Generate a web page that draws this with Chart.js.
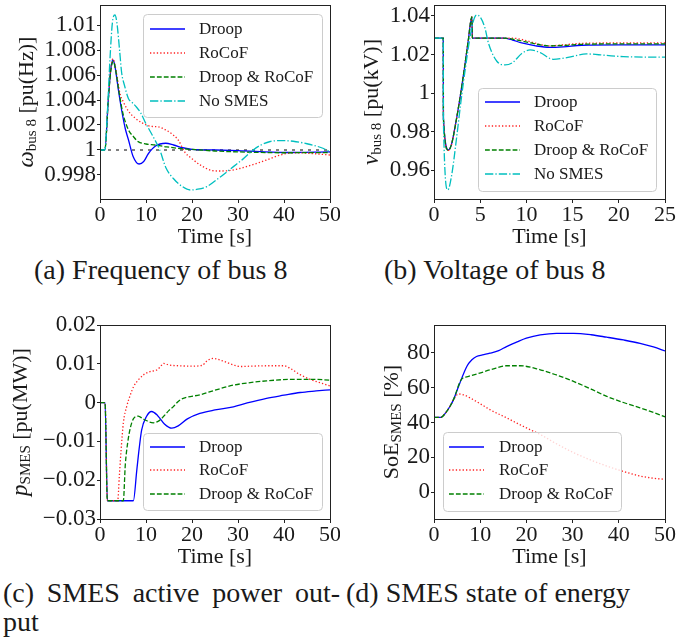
<!DOCTYPE html>
<html>
<head>
<meta charset="utf-8">
<script src="https://cdn.jsdelivr.net/npm/chart.js@4.4.0/dist/chart.umd.min.js"></script>
<style>
  body { margin: 0; background: #fff; width: 697px; height: 637px; position: relative; overflow: hidden; color: #1a1a1a; }
  canvas { position: absolute; }
  .cap { position: absolute; font-family: "Liberation Serif", "Times New Roman", "DejaVu Serif", serif; font-size: 28px; line-height: 1; white-space: nowrap; }
  .just { text-align: justify; text-align-last: justify; white-space: normal; }
</style>
</head>
<body>
<canvas id="chartA" width="340" height="250" style="left:0;top:0"></canvas>
<canvas id="chartB" width="357" height="250" style="left:340px;top:0"></canvas>
<canvas id="chartC" width="340" height="270" style="left:0;top:300px"></canvas>
<canvas id="chartD" width="357" height="270" style="left:340px;top:300px"></canvas>

<div class="cap" style="left:34px;top:256px">(a) Frequency of bus 8</div>
<div class="cap" style="left:384px;top:256px">(b) Voltage of bus 8</div>
<div class="cap just" style="left:3px;top:579px;width:337px">(c) SMES active power out-</div>
<div class="cap" style="left:3px;top:608px">put</div>
<div class="cap" style="left:346px;top:579px">(d) SMES state of energy</div>

<script>
Chart.defaults.font.family = 'Liberation Serif'
Chart.defaults.color = '#1a1a1a'

// ---- (a) frequency of bus 8, [time s, pu] ----
const freqRef = [[0, 1], [50, 1]]
const freqDroop = [[0, 1], [1.05, 1], [1.8, 1.004], [2.3, 1.0063], [2.75, 1.0072], [3.2, 1.0068], [4, 1.0048], [4.7, 1.0032],
  [5.5, 1.0017], [6.2, 1.0008], [7.2, 0.99948], [8.5, 0.99888], [9.5, 0.99908], [10.5, 0.9997], [12, 1.0003], [14.3, 1.00054],
  [16, 1.0004], [18, 1.00018], [20, 1.00005], [25, 1.0], [30, 0.99995], [40, 0.9998], [50, 0.99985]]
const freqRocof = [[0, 1], [1.05, 1], [1.8, 1.004], [2.3, 1.0064], [2.8, 1.0073], [3.3, 1.0067], [4.35, 1.0045], [5, 1.0039],
  [6.2, 1.0031], [7.5, 1.0026], [9, 1.0022], [11, 1.0019], [12.7, 1.00185], [14.3, 1.0016], [15.6, 1.0013], [17, 1.0008],
  [18.5, 0.9998], [20, 0.9993], [22, 0.99875], [24.3, 0.99836], [26, 0.99832], [28, 0.99835], [30.4, 0.99852], [33, 0.9988],
  [36.2, 0.9992], [38.5, 0.99952], [40.6, 0.99972], [43, 0.99978], [46, 0.99972], [50, 0.9996]]
const freqBoth = [[0, 1], [1.05, 1], [1.8, 1.004], [2.3, 1.0062], [2.9, 1.0071], [3.4, 1.0064], [4.2, 1.0045], [5, 1.0029],
  [6.2, 1.0016], [7.2, 1.0011], [8.3, 1.00067], [10, 1.00048], [12, 1.0004], [14.5, 1.00025], [18, 1.0001], [21.7, 1.0],
  [25, 0.99992], [30, 0.99985], [40, 0.99978], [50, 0.9998]]
const freqNoSmes = [[0, 1], [1.05, 1], [1.6, 1.003], [2.2, 1.0075], [2.7, 1.0102], [3.25, 1.0108], [3.7, 1.0101], [4.3, 1.0078],
  [4.7, 1.0062], [5.3, 1.0052], [6.2, 1.0041], [7, 1.0038], [8, 1.0034], [8.8, 1.003], [10, 1.0021], [11.5, 1.0011], [13, 1.0],
  [14.3, 0.9986], [16, 0.9977], [17.8, 0.9971], [19.6, 0.9968], [21, 0.99685], [23.2, 0.99707], [26, 0.9978], [29, 0.99867],
  [31, 0.99925], [33.3, 1.0], [35, 1.0004], [37, 1.00068], [39.5, 1.00075], [42, 1.0007], [45, 1.0005], [48, 1.0002], [50, 0.99987]]
const freqTicks = [0.998, 1, 1.002, 1.004, 1.006, 1.008, 1.01]
const freqTickLabels = ['0.998', '1', '1.002', '1.004', '1.006', '1.008', '1.01']

// ---- (b) voltage of bus 8, [time s, pu] ----
const voltDroop = [[0, 1.0285], [1.0, 1.0285], [1.02, 0.987], [1.55, 0.9705], [1.9, 0.9735], [2.3, 0.983], [2.8, 0.997],
  [3.3, 1.013], [3.7, 1.027], [4.1, 1.0395], [4.15, 1.0285], [7.5, 1.0285], [8.5, 1.0275], [9.5, 1.026], [11, 1.0245],
  [12.5, 1.0237], [14, 1.024], [16, 1.0248], [20, 1.025], [25, 1.025]]
const voltRocof = [[0, 1.0285], [1.0, 1.0285], [1.02, 0.987], [1.55, 0.9702], [1.9, 0.9733], [2.3, 0.983], [2.8, 0.997],
  [3.3, 1.013], [3.7, 1.027], [4.1, 1.0395], [4.15, 1.0285], [7.5, 1.0285], [8.5, 1.0285], [9.5, 1.0278], [10.5, 1.0265],
  [11.5, 1.0252], [12.5, 1.0245], [14, 1.025], [16, 1.0258], [20, 1.026], [25, 1.026]]
const voltBoth = [[0, 1.0285], [1.0, 1.0285], [1.02, 0.987], [1.55, 0.9703], [1.9, 0.9734], [2.3, 0.983], [2.8, 0.997],
  [3.3, 1.013], [3.7, 1.027], [4.1, 1.0395], [4.15, 1.0285], [7.5, 1.0285], [8.5, 1.028], [9.5, 1.027], [10.5, 1.026],
  [11.5, 1.025], [12.5, 1.0245], [14, 1.0247], [16, 1.0253], [20, 1.0255], [25, 1.0255]]
const voltNoSmes = [[0, 1.0285], [1.0, 1.0285], [1.02, 0.985], [1.5, 0.9497], [1.9, 0.957], [2.4, 0.975], [2.9, 0.995],
  [3.4, 1.013], [3.9, 1.029], [4.3, 1.038], [4.6, 1.0405], [5, 1.0395], [5.5, 1.034], [5.9, 1.0258], [6.8, 1.0165],
  [7.7, 1.0146], [8.5, 1.0158], [9.5, 1.0205], [10.4, 1.0224], [11.5, 1.021], [12.9, 1.0175], [14.5, 1.0185],
  [16.5, 1.0203], [18.5, 1.0196], [20.5, 1.0189], [25, 1.0186]]
const voltTicks = [0.96, 0.98, 1, 1.02, 1.04]
const voltTickLabels = ['0.96', '0.98', '1', '1.02', '1.04']

// ---- (c) SMES active power, [time s, pu] ----
const powDroop = [[0, 0], [1.1, 0], [1.6, -0.0253], [7.25, -0.0253], [8, -0.0174], [8.5, -0.012], [9.05, -0.0071],
  [10.1, -0.0036], [11.2, -0.0023], [12.5, -0.0033], [14, -0.0055], [15.6, -0.0066], [17, -0.006], [19, -0.0042],
  [21.7, -0.0028], [25, -0.0019], [29, -0.0011], [32, -0.0001], [36.2, 0.0011], [40, 0.0019], [43.5, 0.0026], [47, 0.003],
  [50, 0.0033]]
const powRocof = [[0, 0], [1.1, 0], [1.6, -0.0253], [3.85, -0.0253], [4.2, -0.019], [4.6, -0.012], [5.1, -0.005],
  [5.8, -0.001], [6.6, 0.002], [7.3, 0.0041], [8.3, 0.0058], [9.5, 0.0072], [10.9, 0.008], [12.3, 0.0084], [13.1, 0.0092],
  [13.8, 0.0101], [15, 0.0097], [17, 0.0095], [20, 0.0094], [22.3, 0.0096], [23, 0.0105], [24.6, 0.0114], [26.5, 0.0108],
  [29, 0.0097], [30.4, 0.0093], [33, 0.0094], [37, 0.0095], [39.9, 0.0095], [41.5, 0.0087], [43.5, 0.0072], [45.7, 0.006],
  [50, 0.0043]]
const powBoth = [[0, 0], [1.1, 0], [1.6, -0.0253], [5.07, -0.0253], [5.5, -0.016], [6, -0.0105], [6.6, -0.0065],
  [7.25, -0.0042], [8.3, -0.0035], [9.5, -0.0043], [11.6, -0.0052], [12.8, -0.0047], [13.8, -0.0036], [15, -0.002],
  [15.9, -0.0011], [17, 0.0003], [18.1, 0.0011], [21.7, 0.002], [25, 0.0032], [29, 0.0045], [33, 0.0052], [36.2, 0.0056],
  [42, 0.006], [46, 0.006], [50, 0.0058]]
const powTicks = [-0.03, -0.02, -0.01, 0, 0.01, 0.02]
const powTickLabels = ['\u22120.03', '\u22120.02', '\u22120.01', '0', '0.01', '0.02']

// ---- (d) SMES state of energy, [time s, %] ----
const soeDroop = [[0, 43], [1.5, 43], [2.5, 45.5], [3.5, 49.5], [4.2, 53], [5.6, 62.7], [7.1, 72.2], [8.2, 76], [9.2, 77.9],
  [10.5, 78.8], [12.1, 79.8], [14, 81.3], [15.7, 83.6], [18, 86.3], [20, 88.4], [23, 90.3], [26.5, 91.2], [30.2, 91.2],
  [34, 90.4], [37.4, 89], [41, 87.4], [44.6, 85.5], [47.5, 83.4], [50, 81.1]]
const soeRocof = [[0, 43], [1.5, 43], [2.5, 45.5], [3.5, 49.5], [4.2, 53], [5.3, 56.4], [6.5, 55.8], [8.5, 53.1],
  [10.3, 50.3], [12.1, 47.4], [15.7, 42.7], [19, 38.2], [23, 33.1], [26.5, 27.8], [30.2, 22.7], [34, 18.4], [37.4, 15],
  [41, 11.9], [44.6, 9.3], [47.5, 8], [50, 7.4]]
const soeBoth = [[0, 43], [1.5, 43], [2.5, 45.5], [3.5, 49.5], [4.2, 53], [5.9, 64.6], [7.5, 66.5], [9.9, 68.4],
  [12.5, 70.5], [15.7, 72.6], [18.6, 72.6], [23, 70.3], [26.5, 67.3], [30.2, 63.6], [34, 59.2], [37.4, 55], [41, 51.5],
  [44.6, 48.4], [47.5, 45.8], [50, 43.3]]
const soeTicks = [0, 20, 40, 60, 80]
const soeTickLabels = ['0', '20', '40', '60', '80']

const timeTicks50 = [0, 10, 20, 30, 40, 50]
const timeTicks25 = [0, 5, 10, 15, 20, 25]
const seriesNames = ['Droop', 'RoCoF', 'Droop & RoCoF', 'No SMES']

// matplotlib-ish styles: b-, r:, g--, c-.
const styles = [
  { color: '#0000ff', dash: [] },
  { color: '#ff2020', dash: [1.3, 2.1] },
  { color: '#008000', dash: [4.8, 2.1] },
  { color: '#00bfbf', dash: [8.3, 2.1, 1.3, 2.1] }
]

const xTickFont = { family: 'Liberation Serif', size: 22, lineHeight: 1 }
const yTickFont = { family: 'Liberation Serif', size: 23, lineHeight: 1 }

// box, legend and y-title with subscript
const decor = {
  id: 'decor',
  afterDraw: (chart, args, opts) => {
    const ctx = chart.ctx
    const a = chart.chartArea
    ctx.save()
    ctx.strokeStyle = '#222'
    ctx.lineWidth = 1
    ctx.strokeRect(Math.round(a.left) + 0.5, Math.round(a.top) + 0.5, Math.round(a.right - a.left), Math.round(a.bottom - a.top))

    // legend
    const lg = opts.legend
    ctx.beginPath()
    ctx.roundRect(lg.x + 0.5, lg.y + 0.5, lg.w, lg.h, 4)
    ctx.fillStyle = 'rgba(255,255,255,0.8)'
    ctx.fill()
    ctx.strokeStyle = '#cccccc'
    ctx.stroke()
    ctx.font = '17px "Liberation Serif"'
    ctx.textBaseline = 'middle'
    lg.rows.forEach((ry, i) => {
      const st = styles[i]
      ctx.beginPath()
      ctx.setLineDash(st.dash)
      ctx.strokeStyle = st.color
      ctx.lineWidth = 1.3
      ctx.moveTo(lg.lineX, ry)
      ctx.lineTo(lg.lineX + 35, ry)
      ctx.stroke()
      ctx.setLineDash([])
      ctx.fillStyle = '#1a1a1a'
      ctx.fillText(seriesNames[i], lg.textX, ry + 1)
    })

    // rotated y title
    const t = opts.yTitle
    ctx.translate(t.x, t.y)
    ctx.rotate(-Math.PI / 2)
    let total = 0
    t.parts.forEach(p => { ctx.font = p.font; total += ctx.measureText(p.text).width })
    let cx = -total / 2
    ctx.textAlign = 'left'
    t.parts.forEach(p => {
      ctx.font = p.font
      ctx.fillText(p.text, cx, p.dy)
      cx += ctx.measureText(p.text).width
    })
    ctx.restore()
  }
}

const makeChart = (id, cfg) => {
  const n = cfg.series.length
  const datasets = cfg.series.map((s, i) => ({
    data: s.map(([x, y]) => ({ x, y })),
    borderColor: styles[i].color,
    borderDash: styles[i].dash,
    borderWidth: 1.3,
    order: n - i
  }))
  if (cfg.ref) {
    datasets.push({
      data: cfg.ref.map(([x, y]) => ({ x, y })),
      borderColor: '#000',
      borderDash: [3, 5],
      borderWidth: 1,
      order: 100
    })
  }
  new Chart(document.getElementById(id), {
    type: 'line',
    data: { datasets: datasets },
    options: {
      responsive: false,
      animation: false,
      layout: { padding: { top: cfg.padTop, right: cfg.padRight, left: 0, bottom: 0 } },
      elements: { point: { radius: 0 }, line: { cubicInterpolationMode: 'monotone', fill: false } },
      plugins: {
        legend: { display: false },
        tooltip: { enabled: false },
        decor: { legend: cfg.legend, yTitle: cfg.yTitle }
      },
      scales: {
        x: {
          type: 'linear',
          min: 0,
          max: cfg.xTicks[cfg.xTicks.length - 1],
          afterBuildTicks: (s) => { s.ticks = cfg.xTicks.map(v => ({ value: v })) },
          afterFit: (s) => { s.height = 51; s.paddingLeft = 0; s.paddingRight = 0 },
          grid: { drawOnChartArea: false, tickLength: 4, color: '#222' },
          border: { display: false },
          ticks: { font: xTickFont, color: '#1a1a1a', padding: 1, maxRotation: 0, autoSkip: false,
            callback: (v) => String(v) },
          title: { display: true, text: 'Time [s]', font: { family: 'Liberation Serif', size: 22 }, color: '#1a1a1a',
            padding: { top: 0, bottom: 0 } }
        },
        y: {
          type: 'linear',
          min: cfg.yMin,
          max: cfg.yMax,
          afterBuildTicks: (s) => { s.ticks = cfg.yTicks.map(v => ({ value: v })) },
          afterFit: (s) => { s.width = cfg.yWidth; s.paddingTop = 0; s.paddingBottom = 0 },
          grid: { drawOnChartArea: false, tickLength: 3, color: '#222' },
          border: { display: false },
          ticks: { font: yTickFont, color: '#1a1a1a', padding: 1, autoSkip: false,
            callback: (v, i) => cfg.yTickLabels[i] }
        }
      }
    },
    plugins: [decor]
  })
}

const big = '22px "Liberation Serif"'
const bigIt = 'italic 23px "Liberation Serif"'
const sub = '15px "Liberation Serif"'

makeChart('chartA', {
  series: [freqDroop, freqRocof, freqBoth, freqNoSmes],
  ref: freqRef,
  xTicks: timeTicks50, yTicks: freqTicks, yTickLabels: freqTickLabels,
  yMin: 0.99608, yMax: 1.0116, yWidth: 100, padTop: 5, padRight: 10,
  legend: { x: 143, y: 14, w: 179, h: 103, lineX: 150, textX: 199, rows: [29, 53, 77, 101] },
  yTitle: { x: 27, y: 102, parts: [{ text: '\u03c9', font: bigIt, dy: 0 }, { text: 'bus 8', font: sub, dy: 5 }, { text: ' [pu(Hz)]', font: big, dy: 0 }] }
})

makeChart('chartB', {
  series: [voltDroop, voltRocof, voltBoth, voltNoSmes],
  xTicks: timeTicks25, yTicks: voltTicks, yTickLabels: voltTickLabels,
  yMin: 0.945, yMax: 1.0457, yWidth: 94, padTop: 5, padRight: 32,
  legend: { x: 138, y: 88, w: 178, h: 103, lineX: 145, textX: 194, rows: [102, 126, 150, 174] },
  yTitle: { x: 32, y: 102, parts: [{ text: 'v', font: bigIt, dy: 0 }, { text: 'bus 8', font: sub, dy: 5 }, { text: ' [pu(kV)]', font: big, dy: 0 }] }
})

makeChart('chartC', {
  series: [powDroop, powRocof, powBoth],
  xTicks: timeTicks50, yTicks: powTicks, yTickLabels: powTickLabels,
  yMin: -0.03, yMax: 0.02, yWidth: 100, padTop: 25, padRight: 10,
  legend: { x: 143, y: 133, w: 179, h: 77, lineX: 150, textX: 199, rows: [147, 170, 194] },
  yTitle: { x: 21, y: 122, parts: [{ text: 'p', font: bigIt, dy: 0 }, { text: 'SMES', font: sub, dy: 5 }, { text: ' [pu(MW)]', font: big, dy: 0 }] }
})

makeChart('chartD', {
  series: [soeDroop, soeRocof, soeBoth],
  xTicks: timeTicks50, yTicks: soeTicks, yTickLabels: soeTickLabels,
  yMin: -15.4, yMax: 96, yWidth: 94, padTop: 25, padRight: 32,
  legend: { x: 103, y: 132, w: 178, h: 79, lineX: 109, textX: 159, rows: [147, 170, 194] },
  yTitle: { x: 52, y: 122, parts: [{ text: 'SoE', font: big, dy: 0 }, { text: 'SMES', font: sub, dy: 5 }, { text: ' [%]', font: big, dy: 0 }] }
})
</script>
</body>
</html>
